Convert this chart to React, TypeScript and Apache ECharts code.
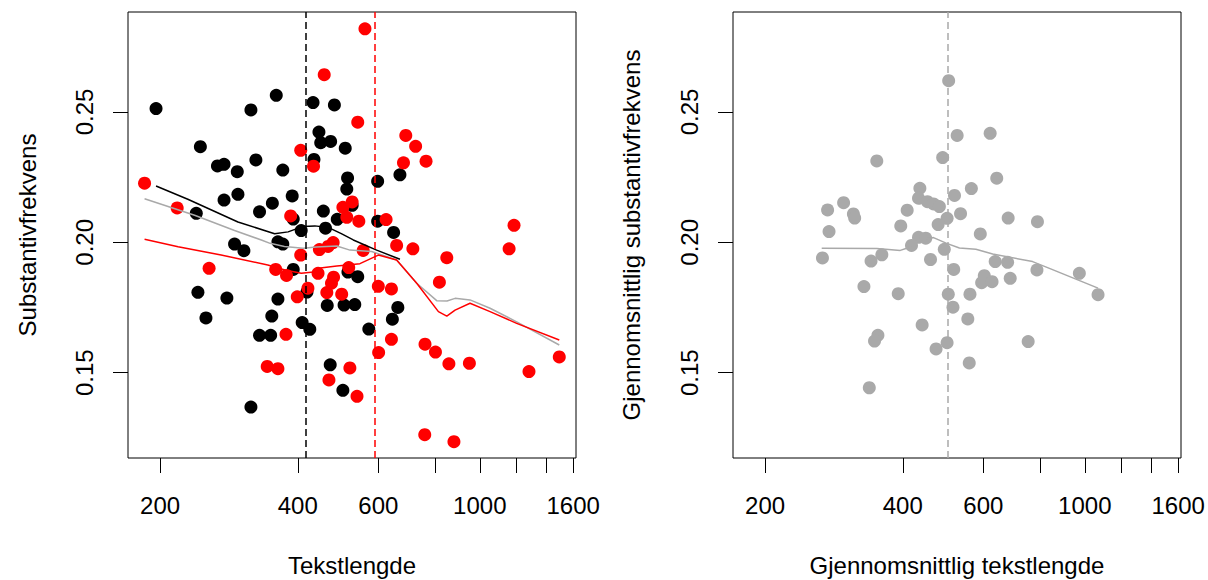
import React, { useEffect, useRef } from "react";
import * as echarts from "echarts";

// ---- axes ----
const xTickValues = [200, 400, 600, 800, 1000, 1200, 1400, 1600];
const xLabelValues = [200, 400, 600, 1000, 1600];
const yTickValues = [0.15, 0.2, 0.25];
const xRange = [170.2, 1623];
const yRange = [0.11725, 0.28835];

// ---- left panel: individual texts (tekstlengde, substantivfrekvens) ----
const blackPoints = [
  [196, 0.2513], [359, 0.2564], [316, 0.2508], [432, 0.2536], [481, 0.2527], [445, 0.2423],
  [449, 0.2382], [472, 0.2387], [508, 0.2361], [245, 0.2367], [434, 0.2318], [267, 0.2293],
  [276, 0.2299], [324, 0.2316], [295, 0.2271], [371, 0.2277], [514, 0.2247], [512, 0.2204],
  [296, 0.2184], [276, 0.2162], [389, 0.2178], [352, 0.215], [330, 0.2117], [240, 0.2111],
  [455, 0.212], [488, 0.2088], [526, 0.2142], [391, 0.2089], [407, 0.2045], [460, 0.2054],
  [291, 0.1993], [305, 0.1968], [362, 0.2002], [371, 0.1993], [669, 0.2259], [598, 0.2234],
  [598, 0.2081], [648, 0.2038], [391, 0.1896], [515, 0.1886], [541, 0.1868], [242, 0.1808],
  [280, 0.1786], [362, 0.1782], [419, 0.1809], [464, 0.1758], [505, 0.1759], [533, 0.1761],
  [662, 0.175], [252, 0.171], [351, 0.1717], [409, 0.1692], [425, 0.1666], [330, 0.1643],
  [349, 0.1643], [644, 0.1705], [572, 0.1667], [471, 0.153], [502, 0.1432], [316, 0.1368],
];

const redPoints = [
  [457, 0.2643], [561, 0.2819], [541, 0.2461], [406, 0.2353], [433, 0.2292], [185, 0.2227],
  [218, 0.2132], [386, 0.2101], [502, 0.2134], [526, 0.2155], [512, 0.2096], [544, 0.2081],
  [478, 0.1999], [466, 0.1984], [446, 0.1972], [689, 0.241], [724, 0.2368], [681, 0.2305],
  [763, 0.2311], [624, 0.2087], [658, 0.1988], [714, 0.1975], [556, 0.1969], [847, 0.1941],
  [1159, 0.1975], [1188, 0.2065], [406, 0.1951], [256, 0.19], [358, 0.1896], [378, 0.1873],
  [443, 0.1881], [517, 0.1903], [479, 0.1866], [474, 0.1843], [421, 0.1824], [463, 0.1807],
  [499, 0.1801], [399, 0.1791], [600, 0.1831], [641, 0.1821], [816, 0.1847], [377, 0.1647],
  [641, 0.1628], [759, 0.1609], [800, 0.1579], [601, 0.1577], [856, 0.1534], [949, 0.1536],
  [1492, 0.156], [1281, 0.1504], [343, 0.1524], [362, 0.1515], [520, 0.1518], [468, 0.1472],
  [539, 0.1409], [758, 0.1262], [878, 0.1235],
];

const blackSmooth = [
  [196, 0.2216], [230, 0.2165], [296, 0.2078], [356, 0.2033], [381, 0.204], [411, 0.2061],
  [436, 0.2063], [466, 0.2057], [498, 0.2033], [529, 0.2009], [595, 0.197], [669, 0.1935],
];

const allSmooth = [
  [185, 0.2167], [238, 0.2104], [291, 0.2045], [333, 0.2009], [348, 0.1996], [374, 0.1984],
  [411, 0.1977], [439, 0.1982], [487, 0.1986], [520, 0.197], [580, 0.1965], [658, 0.1932],
  [728, 0.1843], [805, 0.1776], [848, 0.1775], [883, 0.1785], [952, 0.1779], [1053, 0.1747],
  [1204, 0.1695], [1492, 0.1606],
];

const redSmooth = [
  [185, 0.2012], [219, 0.1983], [272, 0.1951], [344, 0.1913], [375, 0.1894], [407, 0.1881],
  [433, 0.1886], [448, 0.1901], [487, 0.1909], [520, 0.1914], [547, 0.1918], [600, 0.1951],
  [658, 0.1932], [728, 0.1843], [812, 0.1734], [847, 0.1717], [883, 0.174], [952, 0.1766],
  [1053, 0.1734], [1204, 0.1689], [1492, 0.1625],
];

const meanBlack = 414;
const meanRed = 593;

// ---- right panel: averages ----
const averagePoints = [
  [504, 0.262], [526, 0.241], [489, 0.2325], [351, 0.2312], [621, 0.2418], [436, 0.2207],
  [433, 0.2169], [453, 0.2156], [467, 0.2147], [481, 0.2137], [519, 0.218], [535, 0.211],
  [297, 0.2152], [274, 0.2124], [312, 0.2109], [314, 0.2093], [409, 0.2123], [500, 0.2092],
  [478, 0.2068], [276, 0.2041], [396, 0.2063], [433, 0.2019], [449, 0.2016], [418, 0.1988],
  [493, 0.1973], [267, 0.194], [360, 0.1952], [341, 0.1928], [460, 0.1934], [517, 0.1896],
  [329, 0.183], [391, 0.1803], [503, 0.1801], [515, 0.1751], [555, 0.1706], [441, 0.1683],
  [353, 0.1643], [347, 0.1621], [500, 0.1615], [473, 0.1591], [338, 0.1442], [642, 0.2246],
  [565, 0.2206], [680, 0.2093], [788, 0.2079], [591, 0.2032], [637, 0.1926], [678, 0.1923],
  [786, 0.1894], [973, 0.1881], [603, 0.1872], [595, 0.1845], [627, 0.1849], [687, 0.1862],
  [561, 0.1801], [1069, 0.1799], [752, 0.1619], [559, 0.1537],
];

const averageSmooth = [
  [266, 0.1977], [351, 0.1976], [395, 0.1969], [408, 0.1977], [436, 0.2009], [467, 0.2018],
  [499, 0.1996], [532, 0.1978], [578, 0.1973], [629, 0.1955], [769, 0.1926], [837, 0.19],
  [1069, 0.1824],
];

const meanAverage = 503;

const FONT = '"Liberation Sans", Arial, Helvetica, sans-serif';
const GRAY = "#a9a9a9";
const RED = "#ff0000";

export default function App() {
  const ref = useRef<HTMLDivElement>(null);

  useEffect(() => {
    const chart = echarts.init(ref.current!, null, { renderer: "svg" });
    const L = (v: number) => Math.log10(v);
    const toXY = (pts: number[][]) => pts.map(([x, y]) => [L(x), y]);

    const xAxis = (gridIndex: number) => ({
      type: "value",
      gridIndex,
      min: L(xRange[0]),
      max: L(xRange[1]),
      axisLine: { show: false },
      splitLine: { show: false },
      axisTick: {
        show: true,
        customValues: xTickValues.map(L),
        length: 15,
        lineStyle: { color: "#000", width: 1 },
      },
      axisLabel: {
        show: true,
        customValues: xLabelValues.map(L),
        formatter: (v: number) => String(Math.round(Math.pow(10, v))),
        fontSize: 24,
        fontFamily: FONT,
        color: "#000",
        margin: 35,
      },
    });

    const yAxis = (gridIndex: number) => ({
      type: "value",
      gridIndex,
      min: yRange[0],
      max: yRange[1],
      axisLine: { show: false },
      splitLine: { show: false },
      axisTick: {
        show: true,
        customValues: yTickValues,
        length: 15,
        lineStyle: { color: "#000", width: 1 },
      },
      axisLabel: {
        show: true,
        customValues: yTickValues,
        rotate: 90,
        formatter: (v: number) => v.toFixed(2),
        fontSize: 24,
        fontFamily: FONT,
        color: "#000",
        margin: 32,
      },
    });

    const scatter = (name: string, pts: number[][], color: string, idx: number) => ({
      name,
      type: "scatter",
      xAxisIndex: idx,
      yAxisIndex: idx,
      data: toXY(pts),
      symbol: "circle",
      symbolSize: 13,
      itemStyle: { color, opacity: 1 },
      silent: true,
    });

    const vline = (value: number, color: string) => ({
      silent: true,
      symbol: ["none", "none"],
      label: { show: false },
      lineStyle: { color, width: 1.5, type: [7, 4] },
      data: [{ xAxis: L(value) }],
    });

    const smooth = (name: string, pts: number[][], color: string, idx: number, mark?: any) => ({
      name,
      type: "line",
      xAxisIndex: idx,
      yAxisIndex: idx,
      data: toXY(pts),
      showSymbol: false,
      symbol: "none",
      lineStyle: { color, width: 1.5 },
      silent: true,
      ...(mark ? { markLine: mark } : {}),
    });

    const title = (text: string, x: number, y: number, rotated: boolean) => ({
      type: "text",
      x,
      y,
      rotation: rotated ? Math.PI / 2 : 0,
      style: {
        text,
        fontSize: 24,
        fontFamily: FONT,
        fill: "#000",
        align: "center",
        verticalAlign: "middle",
      },
    });

    chart.setOption({
      animation: false,
      backgroundColor: "#fff",
      textStyle: { fontFamily: FONT },
      grid: [
        { left: 128, top: 12, width: 448, height: 446, show: true, borderColor: "#000", borderWidth: 1, backgroundColor: "transparent" },
        { left: 733, top: 12, width: 448, height: 446, show: true, borderColor: "#000", borderWidth: 1, backgroundColor: "transparent" },
      ],
      xAxis: [xAxis(0), xAxis(1)],
      yAxis: [yAxis(0), yAxis(1)],
      series: [
        scatter("black", blackPoints, "#000", 0),
        scatter("red", redPoints, RED, 0),
        smooth("all smooth", allSmooth, GRAY, 0),
        smooth("black smooth", blackSmooth, "#000", 0, vline(meanBlack, "#000")),
        smooth("red smooth", redSmooth, RED, 0, vline(meanRed, RED)),
        scatter("average", averagePoints, GRAY, 1),
        smooth("average smooth", averageSmooth, GRAY, 1, vline(meanAverage, GRAY)),
      ],
      graphic: [
        title("Tekstlengde", 352, 565, false),
        title("Gjennomsnittlig tekstlengde", 957, 565, false),
        title("Substantivfrekvens", 27, 235, true),
        title("Gjennomsnittlig substantivfrekvens", 631, 235, true),
      ],
    });

    return () => chart.dispose();
  }, []);

  return (
    <div
      ref={ref}
      style={{ position: "fixed", left: 0, top: 0, width: 1208, height: 580, background: "#fff" }}
    />
  );
}
